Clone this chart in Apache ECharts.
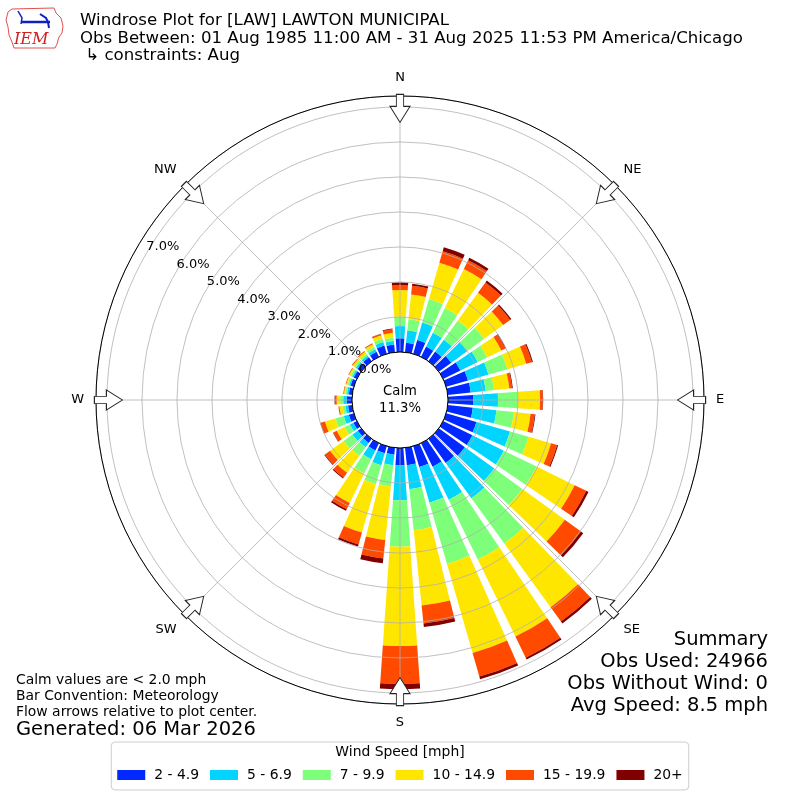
<!DOCTYPE html>
<html><head><meta charset="utf-8">
<script src="https://cdn.jsdelivr.net/npm/echarts@6/dist/echarts.min.js"></script>
<style>html,body{margin:0;padding:0;background:#fff}#c{width:800px;height:800px}</style>
</head><body><div id="c"></div>
<script>
// ---- data ----
const directions = [0,10,20,30,40,50,60,70,80,90,100,110,120,130,140,150,160,170,180,190,200,210,220,230,240,250,260,270,280,290,300,310,320,330,340,350];
const speedBins = ['2 - 4.9','5 - 6.9','7 - 9.9','10 - 14.9','15 - 19.9','20+'];
// frequency (%) per direction for each speed bin
const bin2to5   = [0.39,0.27,0.41,0.33,0.34,0.44,0.55,0.65,0.66,0.72,0.72,0.90,0.93,0.92,0.85,0.75,0.62,0.50,0.50,0.20,0.21,0.23,0.15,0.12,0.11,0.15,0.12,0.15,0.10,0.10,0.10,0.13,0.14,0.16,0.25,0.22];
const bin5to7   = [0.35,0.36,0.52,0.44,0.42,0.56,0.55,0.61,0.43,0.71,0.68,1.00,1.00,1.04,1.25,1.05,1.06,0.69,0.99,0.30,0.36,0.28,0.15,0.19,0.11,0.15,0.08,0.10,0.05,0.04,0.05,0.06,0.06,0.08,0.10,0.10];
const bin7to10  = [0.27,0.32,0.70,0.78,0.68,0.60,0.30,0.56,0.24,0.57,0.50,0.55,1.04,0.99,1.60,1.90,1.82,1.18,1.33,0.61,0.56,0.45,0.30,0.31,0.17,0.25,0.08,0.09,0.05,0.05,0.05,0.05,0.06,0.08,0.10,0.10];
const bin10to15 = [0.76,0.71,1.08,1.24,0.98,0.67,0.45,0.56,0.44,0.63,0.48,0.67,1.21,1.50,2.25,2.45,2.65,2.16,2.84,1.54,1.44,0.94,0.60,0.48,0.25,0.31,0.09,0.10,0.04,0.04,0.05,0.06,0.07,0.08,0.10,0.14];
const bin15to20 = [0.14,0.25,0.34,0.28,0.36,0.25,0.13,0.17,0.08,0.08,0.12,0.18,0.37,0.57,0.50,0.67,0.70,0.52,1.08,0.53,0.35,0.20,0.17,0.18,0.11,0.13,0.03,0.05,0.02,0.02,0.02,0.03,0.03,0.03,0.04,0.10];
const bin20plus = [0.08,0.06,0.12,0.08,0.07,0.04,0.02,0.03,0.02,0.01,0.02,0.03,0.07,0.08,0.07,0.06,0.08,0.10,0.15,0.14,0.06,0.05,0.03,0.02,0.01,0.01,0.00,0.01,0.00,0.00,0.00,0.00,0.00,0.00,0.01,0.02];
const calmPercent = 11.3;
const radialTickLabels = ['0.0%','1.0%','2.0%','3.0%','4.0%','5.0%','6.0%','7.0%'];
const compassBearings = [0,45,90,135,180,225,270,315];
const compassLabels = ['N','NE','E','SE','S','SW','W','NW'];
const titleLines = ['Windrose Plot for [LAW] LAWTON MUNICIPAL','Obs Between: 01 Aug 1985 11:00 AM - 31 Aug 2025 11:53 PM America/Chicago',' \u21b3 constraints: Aug'];
const summaryLines = ['Summary','Obs Used: 24966','Obs Without Wind: 0','Avg Speed: 8.5 mph'];
const noteLines = ['Calm values are < 2.0 mph','Bar Convention: Meteorology','Flow arrows relative to plot center.'];
const generatedText = 'Generated: 06 Mar 2026';

// ---- style ----
const FONT = 'DejaVu Sans';
const colors = ['#0028ff','#00d4ff','#7dff7a','#ffe600','#ff4a00','#800000'];
const rMax = 7.314;
const arrowR = 6.96;
const bins = [bin2to5,bin5to7,bin7to10,bin10to15,bin15to20,bin20plus];

const chart = echarts.init(document.getElementById('c'), null, {renderer:'canvas'});
const grid = {color:'#b0b0b0', width:0.8};
const option = {
  animation:false,
  backgroundColor:'#fff',
  textStyle:{fontFamily:FONT, color:'#000'},
  title:[
    {text:titleLines.join('\n'), left:80, top:12, padding:0, textStyle:{fontSize:16.6, fontWeight:'normal', lineHeight:17.5, fontFamily:FONT, color:'#000'}},
    {text:summaryLines.join('\n'), left:768, top:629, padding:0, textAlign:'right', textStyle:{fontSize:19.5, fontWeight:'normal', lineHeight:22, fontFamily:FONT, color:'#000'}},
    {text:noteLines.join('\n'), left:16, top:672, padding:0, textStyle:{fontSize:13.9, fontWeight:'normal', lineHeight:16, fontFamily:FONT, color:'#000'}},
    {text:generatedText, left:16, top:720, padding:0, textStyle:{fontSize:19.5, fontWeight:'normal', fontFamily:FONT, color:'#000'}},
    {text:'Wind Speed [mph]', left:400, top:745, padding:0, textAlign:'center', textStyle:{fontSize:13.9, fontWeight:'normal', fontFamily:FONT, color:'#000'}}
  ],
  legend:{
    data:speedBins, top:742, left:'center', icon:'rect', itemWidth:28, itemHeight:10, itemGap:11,
    padding:[26,6,8,6], borderColor:'#cccccc', borderWidth:1, borderRadius:4, selectedMode:false,
    textStyle:{fontSize:13.9, fontFamily:FONT, color:'#000', padding:[0,0,0,4]}
  },
  polar:[
    {center:[400,400], radius:[48,304]},
    {center:[400,400], radius:[48,304]},
    {center:[400,400], radius:[48,304]}
  ],
  angleAxis:[
    {polarIndex:0, type:'category', data:directions.map(String), startAngle:95, clockwise:true,
     axisLine:{show:false}, axisTick:{show:false}, axisLabel:{show:false}, splitLine:{show:false}},
    {polarIndex:1, type:'value', min:0, max:360, interval:45, startAngle:90, clockwise:true, z:3,
     axisLine:{show:true, lineStyle:{color:'#000', width:1}}, axisTick:{show:false},
     axisLabel:{margin:12, align:'center', verticalAlign:'middle', fontSize:13, color:'#000', fontFamily:FONT,
       formatter:v=>{const i=compassBearings.indexOf(v); return i>=0?compassLabels[i]:'';}},
     splitLine:{show:true, lineStyle:grid}},
    {polarIndex:2, type:'value', min:0, max:360, startAngle:150, clockwise:true, show:false}
  ],
  radiusAxis:[
    {polarIndex:0, type:'value', min:0, max:rMax, show:false},
    {polarIndex:1, type:'value', min:0, max:rMax, interval:1, z:3,
     axisLine:{show:false}, axisTick:{show:false}, axisLabel:{show:false}, splitLine:{show:true, lineStyle:grid}},
    {polarIndex:2, type:'value', min:0, max:rMax, interval:1, z:8,
     axisLine:{show:false}, axisTick:{show:false}, splitLine:{show:false},
     axisLabel:{show:true, showMaxLabel:false, margin:0, align:'left', verticalAlign:'bottom', fontSize:13, color:'#000', fontFamily:FONT,
       formatter:v=> (radialTickLabels[Math.round(v)] !== undefined && Math.abs(v-Math.round(v))<1e-6) ? radialTickLabels[Math.round(v)] : ''}}
  ],
  series: speedBins.map((name,i)=>({
    type:'bar', name, coordinateSystem:'polar', polarIndex:0, stack:'total',
    data:bins[i], barWidth:'80%', itemStyle:{color:colors[i]}, z:2, silent:true
  })).concat([{
    type:'scatter', coordinateSystem:'polar', polarIndex:1, silent:true, z:5,
    data:compassBearings.map(b=>[arrowR,b]),
    symbol:'path://M7,0 L15,0 L15,12 L22,12 L11,28 L0,12 L7,12 Z',
    symbolSize:[20,28], symbolRotate:(v)=>-v[1],
    itemStyle:{color:'#fff', borderColor:'#222', borderWidth:1, opacity:1}
  }]),
  graphic:[
    {type:'circle', shape:{cx:400, cy:400, r:48}, style:{fill:'#fff', stroke:'#000', lineWidth:1}, z:4},
    {type:'text', x:400, y:400, z:9, style:{text:'Calm\n'+calmPercent.toFixed(1)+'%', align:'center', verticalAlign:'middle', fontSize:13.2, fontFamily:FONT, lineHeight:17, fill:'#000'}},
    // IEM logo (decoration)
    {type:'polyline', z:9, shape:{points:[[8,12],[12,9],[54,8],[56,13],[61,18],[63,26],[62,33],[59,37],[57,44],[55,48],[14,48],[12,42],[9,35],[8,27],[6,20],[8,12]]}, style:{stroke:'#e05050', fill:'none', lineWidth:1}},
    {type:'polyline', z:9, shape:{points:[[22,22],[50,22]]}, style:{stroke:'#1020c0', lineWidth:2.5}},
    {type:'polyline', z:9, shape:{points:[[18,11],[22,18],[21,24]]}, style:{stroke:'#1020c0', lineWidth:1.5}},
    {type:'polyline', z:9, shape:{points:[[40,14],[46,18],[48,22],[49,28]]}, style:{stroke:'#1020c0', lineWidth:2}},
    {type:'text', z:9, x:14, y:32, style:{text:'IEM', fontSize:16, fontStyle:'italic', fontFamily:'DejaVu Serif', fill:'#d02020'}}
  ]
};
chart.setOption(option);
</script></body></html>
